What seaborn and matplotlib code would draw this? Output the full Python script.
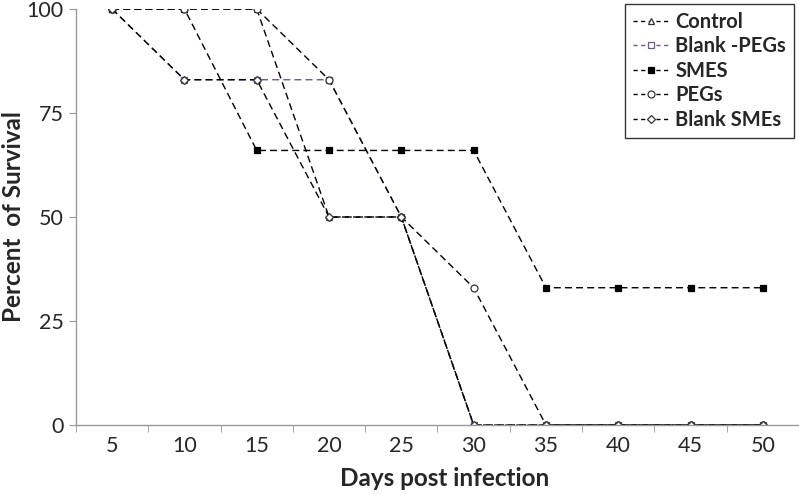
import matplotlib
matplotlib.use("Agg")
import matplotlib.pyplot as plt
import seaborn as sns
import numpy as np
from matplotlib.lines import Line2D

days = [5, 10, 15, 20, 25, 30, 35, 40, 45, 50]
control = [100, 100, 100, 50, 50, 0, 0, 0, 0, 0]
blank_pegs = [100, 83, 83, 83, 50, 0, 0, 0, 0, 0]
smes = [100, 100, 66, 66, 66, 66, 33, 33, 33, 33]
pegs = [100, 100, 100, 83, 50, 33, 0, 0, 0, 0]
blank_smes = [100, 83, 83, 50, 50, 0, 0, 0, 0, 0]
series_names = ["Control", "Blank -PEGs", "SMES", "PEGs", "Blank SMEs"]
y_ticks = [0, 25, 50, 75, 100]

sns.set_style("white")
plt.rcParams['font.family'] = ['Lato', 'DejaVu Sans']

fig = plt.figure(figsize=(7.99, 4.95), dpi=100)
ax = fig.add_axes([0.0951, 0.1414, 0.9049, 0.8404])

styles = [
    dict(marker="^", mfc="white", mec="#333333", color="black"),
    dict(marker="s", mfc="white", mec="#6a5a8e", color="#6a5a8e"),
    dict(marker="s", mfc="black", mec="black", color="black"),
    dict(marker="o", mfc="white", mec="#333333", color="black"),
    dict(marker="D", mfc="white", mec="#333333", color="black"),
]
all_vals = [control, blank_pegs, smes, pegs, blank_smes]
handles = []
for name, vals, st in zip(series_names, all_vals, styles):
    ms = 5 if st["marker"] != "D" else 4
    sns.lineplot(x=days, y=vals, ax=ax, color=st["color"], linewidth=1.0,
                 linestyle=(0, (5, 3)), marker=st["marker"], markersize=ms,
                 markerfacecolor=st["mfc"], markeredgecolor=st["mec"],
                 markeredgewidth=0.9, legend=False)
    handles.append(Line2D([0], [0], color=st["color"], linewidth=1.0,
                          linestyle=(0, (3, 2.5)), marker=st["marker"], markersize=ms,
                          markerfacecolor=st["mfc"], markeredgecolor=st["mec"],
                          markeredgewidth=0.9, label=name))

ax.set_xlim(2.5, 52.5)
ax.set_ylim(0, 100)
ax.set_xticks(days)
ax.set_xticklabels([str(d) for d in days], fontsize=15.5)
ax.set_xticks(np.arange(2.5, 53, 5), minor=True)
ax.tick_params(axis="x", which="major", length=0, pad=8)
ax.tick_params(axis="x", which="minor", length=5, color="#999999", direction="out", bottom=True)
ax.set_yticks(y_ticks)
ax.set_yticklabels([str(t) for t in y_ticks], fontsize=15.5)
ax.tick_params(axis="y", length=5, color="#999999", direction="out", left=True, pad=4)

for s in ["top", "right"]:
    ax.spines[s].set_visible(False)
for s in ["left", "bottom"]:
    ax.spines[s].set_color("#999999")
    ax.spines[s].set_linewidth(1.0)

ax.set_xlabel("Days post infection", fontsize=17.5, fontweight="bold")
ax.xaxis.set_label_coords(0.51, -0.102)
ax.set_ylabel("Percent  of Survival", fontsize=17.5, fontweight="bold")
ax.yaxis.set_label_coords(-0.07, 0.5)

leg = fig.legend(handles=handles, loc="upper left", bbox_to_anchor=(0.782, 1 - 4 / 495),
                 frameon=True, fancybox=False, edgecolor="black",
                 prop=dict(family="Lato", weight="bold", size=14.5),
                 handlelength=1.8, handletextpad=0.3, labelspacing=0.22,
                 borderpad=0.4, borderaxespad=0)
leg.get_frame().set_linewidth(1.0)

fig.savefig("out.png", dpi=100)
